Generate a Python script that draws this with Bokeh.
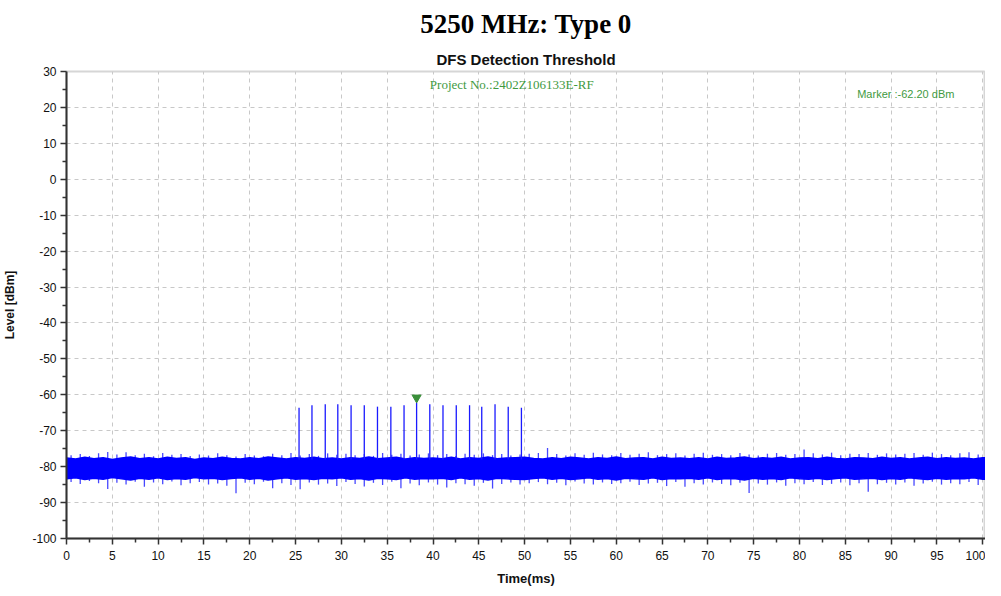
from bokeh.plotting import figure
from bokeh.models import Title, Range1d, FixedTicker
from bokeh.core.properties import value
from bokeh.embed import file_html
from bokeh.resources import INLINE

# ---- data ----
# dense noise-floor band: upper / lower edge, one value per ms (t = 0 .. 101)
band_hi = [-77.6, -77.9, -77.4, -77.8, -77.5, -78.0, -77.6, -77.3, -77.8, -77.5,
           -77.9, -77.4, -77.7, -77.5, -78.0, -77.6, -77.8, -77.4, -77.7, -77.9,
           -77.5, -77.8, -77.3, -77.6, -77.9, -77.5, -77.7, -77.4, -77.8, -77.6,
           -77.9, -77.5, -77.7, -77.3, -77.8, -77.6, -77.4, -77.9, -77.5, -77.7,
           -77.6, -77.8, -77.4, -77.9, -77.5, -77.7, -77.3, -77.8, -77.6, -77.5,
           -77.4, -77.7, -77.9, -77.5, -77.8, -77.4, -77.6, -77.9, -77.5, -77.7,
           -77.3, -77.8, -77.6, -77.5, -77.9, -77.4, -77.7, -77.6, -77.8, -77.5,
           -77.9, -77.4, -77.7, -77.6, -77.3, -77.8, -77.5, -77.7, -77.4, -77.9,
           -77.6, -77.5, -77.8, -77.4, -77.7, -77.9, -77.5, -77.6, -77.8, -77.4,
           -77.7, -77.5, -77.9, -77.6, -77.4, -77.8, -77.5, -77.7, -77.6, -77.9, -77.5, -77.6]
band_lo = [-83.4, -83.1, -83.6, -83.2, -83.5, -83.0, -83.4, -83.7, -83.2, -83.5,
           -83.1, -83.6, -83.3, -83.5, -83.0, -83.4, -83.2, -83.6, -83.3, -83.1,
           -83.5, -83.2, -83.7, -83.4, -83.1, -83.5, -83.3, -83.6, -83.2, -83.4,
           -83.1, -83.5, -83.3, -83.7, -83.2, -83.4, -83.6, -83.1, -83.5, -83.3,
           -83.4, -83.2, -83.6, -83.1, -83.5, -83.3, -83.7, -83.2, -83.4, -83.5,
           -83.6, -83.3, -83.1, -83.5, -83.2, -83.6, -83.4, -83.1, -83.5, -83.3,
           -83.7, -83.2, -83.4, -83.5, -83.1, -83.6, -83.3, -83.4, -83.2, -83.5,
           -83.1, -83.6, -83.3, -83.4, -83.7, -83.2, -83.5, -83.3, -83.6, -83.1,
           -83.4, -83.5, -83.2, -83.6, -83.3, -83.1, -83.5, -83.4, -83.2, -83.6,
           -83.3, -83.5, -83.1, -83.4, -83.6, -83.2, -83.5, -83.3, -83.4, -83.1, -83.5, -83.4]
# noise spike tips, one value per ms, at t = 0.5 .. 101.5
spike_hi = [-76.8, -76.5, -77.0, -76.3, -75.9, -76.6, -76.0, -76.8, -76.4, -77.1, -76.2,
            -76.7, -76.5, -77.0, -76.6, -76.9, -76.3, -76.8, -77.2, -76.5, -76.9,
            -77.1, -76.4, -76.8, -76.2, -76.9, -76.5, -77.0, -76.3, -76.7, -76.4,
            -76.8, -76.5, -77.0, -76.2, -76.7, -76.4, -76.9, -76.6, -76.3, -76.8,
            -76.5, -77.0, -76.4, -76.7, -76.3, -76.8, -76.5, -76.9, -76.6, -76.4,
            -76.2, -74.8, -76.5, -76.9, -76.3, -76.7, -76.1, -76.6, -76.8, -76.2,
            -76.7, -76.4, -76.0, -76.8, -76.5, -76.3, -76.9, -76.4, -76.1, -76.7,
            -76.5, -76.8, -76.2, -76.6, -76.9, -76.4, -76.2, -76.7, -76.5, -75.2,
            -76.3, -76.6, -76.1, -76.8, -76.4, -76.5, -76.2, -76.7, -76.3, -76.6,
            -76.4, -76.2, -76.7, -76.1, -76.5, -76.8, -76.3, -76.0, -76.6, -76.4, -76.7]
spike_lo = [-84.3, -84.8, -84.0, -84.6, -86.2, -84.5, -85.0, -84.2, -85.6, -84.4, -84.9,
            -84.1, -85.2, -84.6, -84.3, -85.0, -84.7, -85.3, -87.4, -84.5, -84.9,
            -84.2, -86.0, -84.6, -85.1, -86.3, -84.4, -85.0, -84.7, -85.4, -84.3,
            -84.8, -85.5, -84.5, -85.1, -84.2, -86.0, -84.7, -85.2, -84.4, -85.0,
            -85.8, -84.6, -84.9, -85.3, -84.5, -86.1, -84.8, -84.4, -85.0, -84.6,
            -84.3, -84.9, -84.5, -85.2, -84.1, -84.7, -85.0, -84.4, -84.8, -84.6,
            -84.2, -85.1, -84.7, -84.5, -85.4, -84.3, -85.6, -84.6, -85.0, -84.4,
            -84.8, -85.2, -84.5, -87.3, -84.7, -85.0, -84.4, -85.3, -84.6, -84.9,
            -84.3, -85.1, -84.8, -84.4, -85.2, -84.6, -87.0, -84.9, -84.5, -85.0,
            -84.4, -85.3, -84.7, -84.2, -85.0, -84.6, -84.9, -84.3, -85.1, -84.5, -84.8]

pulse_t = [25.38, 26.79, 28.24, 29.61, 31.06, 32.50, 33.94, 35.40, 36.84,
           38.21, 39.65, 41.09, 42.54, 43.99, 45.32, 46.77, 48.21, 49.65]
pulse_peak = [-63.6, -62.9, -62.6, -62.6, -62.9, -62.9, -63.3, -63.3, -62.9,
              -62.2, -62.6, -62.9, -62.9, -62.9, -63.3, -62.6, -63.3, -63.6]

marker_t = [38.21]
marker_level = [-62.2]
marker_text = ["Marker :-62.20 dBm"]
project_text = ["Project No.:2402Z106133E-RF"]
title_text = "5250 MHz: Type 0"
subtitle_text = "DFS Detection Threshold"

x_ticks = list(range(0, 101, 5))
y_ticks = list(range(-100, 31, 10))
y_tick_labels = [str(t) for t in y_ticks]

band_t = [float(i) for i in range(len(band_hi))]
spike_t = [i + 0.5 for i in range(len(spike_hi))]
spike_mid = [-80.5] * len(spike_t)
pulse_base = [-78.0] * len(pulse_t)

SANS = "Liberation Sans"

p = figure(width=985, height=588, output_backend="svg", toolbar_location=None,
           x_range=Range1d(0, 100.3), y_range=Range1d(-100, 30),
           min_border_left=58, min_border_right=0, min_border_bottom=40, min_border_top=0)

p.title.text = title_text
p.title.align = "center"
p.title.text_font = "Liberation Serif"
p.title.text_font_size = "27px"
p.title.text_font_style = "bold"
p.title.text_color = "#000000"
p.title.offset = 0
p.title.standoff = 12

sub = Title(text=subtitle_text, align="center", text_font=SANS,
            text_font_size="15px", text_font_style="bold", text_color="#111111",
            standoff=8)
p.add_layout(sub, "above")

# frame / grid
p.outline_line_color = "#d6d6d6"
p.outline_line_width = 2
p.background_fill_color = "white"
p.border_fill_color = "white"
for g in (p.xgrid, p.ygrid):
    g.grid_line_color = "#c8c8c8"
    g.grid_line_dash = "4 4"
    g.grid_line_width = 1
p.xgrid.ticker = FixedTicker(ticks=x_ticks)
p.ygrid.ticker = FixedTicker(ticks=y_ticks)

# axes
p.xaxis.ticker = FixedTicker(ticks=x_ticks, minor_ticks=[t + 2.5 for t in x_ticks])
p.yaxis.ticker = FixedTicker(ticks=y_ticks, minor_ticks=[t + 5 for t in y_ticks[:-1]])
p.yaxis.major_label_overrides = {t: lab for t, lab in zip(y_ticks, y_tick_labels)}
for ax in (p.xaxis, p.yaxis):
    ax.axis_line_color = "#333333"
    ax.axis_line_width = 2
    ax.major_tick_line_color = "#333333"
    ax.minor_tick_line_color = "#333333"
    ax.major_tick_line_width = 1.5
    ax.minor_tick_line_width = 1.5
    ax.major_tick_in = 0
    ax.major_tick_out = 6
    ax.minor_tick_in = 0
    ax.minor_tick_out = 4
    ax.major_label_text_font = SANS
    ax.major_label_text_font_size = "12px"
    ax.major_label_text_color = "#111111"
    ax.axis_label_text_font = SANS
    ax.axis_label_text_font_style = "bold"
    ax.axis_label_text_font_size = "13px"
    ax.axis_label_text_color = "#111111"
p.xaxis.axis_label = "Time(ms)"
p.yaxis.axis_label = "Level [dBm]"
p.xaxis.major_label_standoff = 6
p.yaxis.major_label_standoff = 4
p.xaxis.axis_label_standoff = 8
p.yaxis.axis_label_standoff = 12
p.yaxis.axis_label_text_font_size = "12px"

# noise spikes and dense band
p.segment(x0=spike_t, y0=spike_mid, x1=spike_t, y1=spike_hi, line_color="#4747ff", line_width=1.3)
p.segment(x0=spike_t, y0=spike_mid, x1=spike_t, y1=spike_lo, line_color="#4747ff", line_width=1.3)
p.varea(x=band_t, y1=band_lo, y2=band_hi, fill_color="#0000ff", fill_alpha=1.0)
p.line(band_t, band_hi, line_color="#0000ff", line_width=1.5)
p.line(band_t, band_lo, line_color="#0000ff", line_width=1.5)

# pulses
p.segment(x0=pulse_t, y0=pulse_base, x1=pulse_t, y1=pulse_peak,
          line_color="#1a1aff", line_width=1.3)

# marker
p.scatter(x=marker_t, y=[m + 1.4 for m in marker_level], marker="inverted_triangle",
          size=9, fill_color="#3a8f3a", line_color="#3a8f3a")

p.text(x=[48.6], y=[26.4], text=project_text, text_font=value("Liberation Serif"),
       text_font_size="13px", text_color="#3f9a3f", text_align="center",
       text_baseline="middle")
p.text(x=[91.6], y=[23.8], text=marker_text, text_font=value(SANS),
       text_font_size="11px", text_color="#3f9a3f", text_align="center",
       text_baseline="middle")

open("out.html", "w").write(file_html(p, INLINE))
